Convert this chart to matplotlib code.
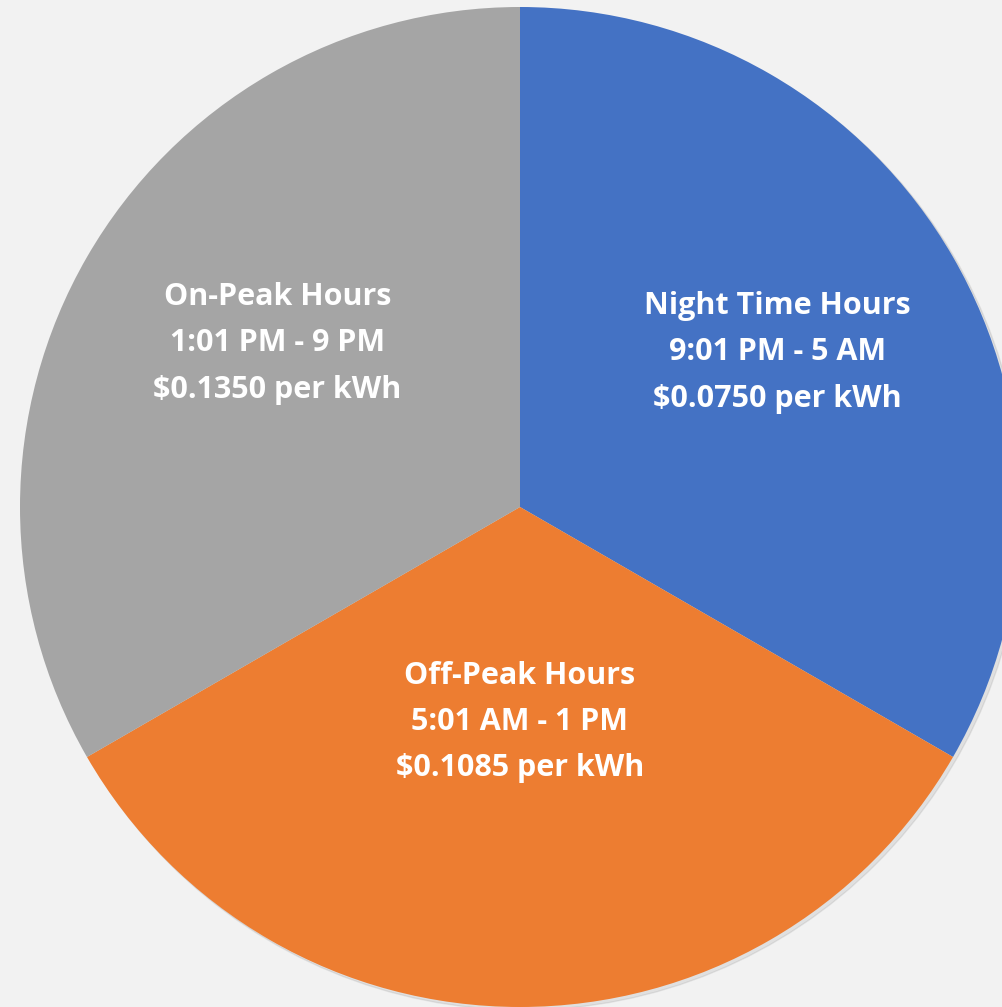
import matplotlib
matplotlib.use("Agg")
import matplotlib.pyplot as plt
import numpy as np

categories = ["Night Time Hours", "Off-Peak Hours", "On-Peak Hours"]
time_ranges = ["9:01 PM - 5 AM", "5:01 AM - 1 PM", "1:01 PM - 9 PM"]
rates = ["$0.0750 per kWh", "$0.1085 per kWh", "$0.1350 per kWh"]
hours = [8, 8, 8]
colors = ["#4472C4", "#ED7D31", "#A5A5A5"]
label_dist = [0.60, 0.43, 0.585]
label_ang_shift = [1.0, 0.0, -4.0]

W, H = 1003, 1007
fig = plt.figure(figsize=(W / 100, H / 100), dpi=100)
fig.patch.set_facecolor("#F2F2F2")
ax = fig.add_axes([0, 0, 1, 1])
ax.set_facecolor("#F2F2F2")

cx, cy, R = 520, 507, 500
ax.set_aspect("equal")
ax.axis("off")

# subtle shadow
shadow = plt.Circle((0.006, -0.006), 1.0, color="#000000", alpha=0.07, zorder=0)
ax.add_patch(shadow)

wedges, _ = ax.pie(hours, colors=colors, startangle=90, counterclock=False,
                   radius=1.0, wedgeprops=dict(linewidth=0))
ax.set_xlim(-cx / R, (W - cx) / R)
ax.set_ylim(-(H - cy) / R, cy / R)

for w, cat, tr, rt, d, s in zip(wedges, categories, time_ranges, rates,
                                label_dist, label_ang_shift):
    ang = np.deg2rad((w.theta1 + w.theta2) / 2 + s)
    x, y = d * np.cos(ang), d * np.sin(ang)
    ax.text(x, y, f"{cat}\n{tr}\n{rt}", ha="center", va="center",
            color="white", fontsize=22, fontweight="bold", family="Open Sans",
            linespacing=1.7)

fig.savefig("out.png", dpi=100, facecolor=fig.get_facecolor())
